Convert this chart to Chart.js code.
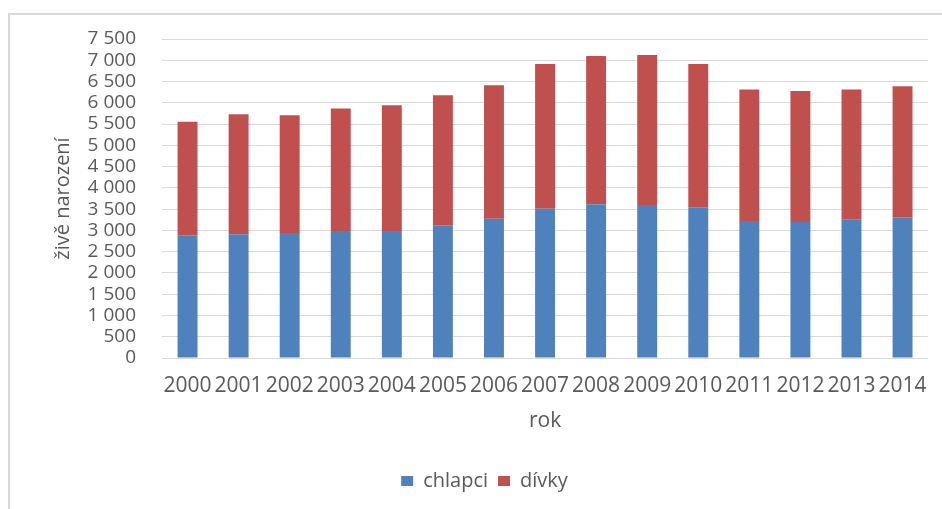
<!DOCTYPE html>
<html lang="cs">
<head>
<meta charset="utf-8">
<title>Živě narození podle pohlaví</title>
<script src="https://cdn.jsdelivr.net/npm/chart.js@4/dist/chart.umd.min.js"></script>
<style>
  html, body { margin: 0; padding: 0; background: #ffffff; }
  #wrap { position: relative; width: 942px; height: 509px; overflow: hidden; }
  #frame {
    position: absolute; left: 8px; top: 13px; right: 0; bottom: 0;
    border-left: 2px solid #d9d9d9; border-top: 2px solid #d9d9d9;
    pointer-events: none;
  }
  #c { position: absolute; left: 0; top: 0; }
</style>
</head>
<body>
<div id="wrap">
  <div id="frame"></div>
  <canvas id="c" width="942" height="509"></canvas>
</div>
<script>
// Roky
const years = ['2000', '2001', '2002', '2003', '2004', '2005', '2006', '2007',
               '2008', '2009', '2010', '2011', '2012', '2013', '2014'];
// Živě narození chlapci
const chlapci = [2885, 2909, 2940, 2987, 2987, 3120, 3276, 3511,
                 3612, 3597, 3542, 3221, 3198, 3253, 3307];
// Živě narozené dívky
const divky = [2667, 2822, 2768, 2877, 2956, 3057, 3136, 3401,
               3488, 3527, 3370, 3089, 3081, 3057, 3081];
// Hodnoty na svislé ose
const yTicks = [0, 500, 1000, 1500, 2000, 2500, 3000, 3500,
                4000, 4500, 5000, 5500, 6000, 6500, 7000, 7500];

const FONT = 'Open Sans';
const TEXT = '#595959';

// formát čísla s mezerou jako oddělovačem tisíců
const fmt = v => String(v).replace(/\B(?=(\d{3})+(?!\d))/g, ' ');

new Chart(document.getElementById('c'), {
  type: 'bar',
  data: {
    labels: years,
    datasets: [
      { label: 'chlapci', data: chlapci, backgroundColor: '#4f81bd',
        barPercentage: 0.39, categoryPercentage: 1 },
      { label: 'dívky', data: divky, backgroundColor: '#c0504d',
        barPercentage: 0.39, categoryPercentage: 1 }
    ]
  },
  options: {
    responsive: false,
    animation: false,
    layout: { padding: { left: 40, top: 39, right: 13, bottom: 8 } },
    plugins: {
      tooltip: { enabled: false },
      legend: {
        position: 'bottom',
        labels: {
          font: { family: FONT, size: 20 },
          color: TEXT,
          boxWidth: 12,
          boxHeight: 10,
          padding: 10
        }
      }
    },
    scales: {
      x: {
        stacked: true,
        grid: { display: false, drawTicks: false },
        border: { display: false },
        ticks: {
          font: { family: FONT, size: 21 },
          color: TEXT,
          autoSkip: false,
          maxRotation: 0,
          padding: 15
        },
        title: {
          display: true,
          text: 'rok',
          font: { family: FONT, size: 21 },
          color: TEXT,
          padding: { top: 0, bottom: 27 }
        },
        afterFit: s => { s.height = 103; }
      },
      y: {
        stacked: true,
        min: 0,
        max: 7500,
        grid: { color: '#d9d9d9', lineWidth: 1, drawTicks: false },
        border: { display: false },
        afterBuildTicks: s => { s.ticks = yTicks.map(v => ({ value: v })); },
        ticks: {
          font: { family: FONT, size: 19 },
          color: TEXT,
          autoSkip: false,
          padding: 26,
          callback: v => fmt(v)
        },
        title: {
          display: true,
          text: 'živě narození',
          font: { family: FONT, size: 20 },
          color: TEXT,
          padding: { top: 11, bottom: 0 }
        },
        afterFit: s => { s.width = 122; }
      }
    }
  }
});
</script>
</body>
</html>
